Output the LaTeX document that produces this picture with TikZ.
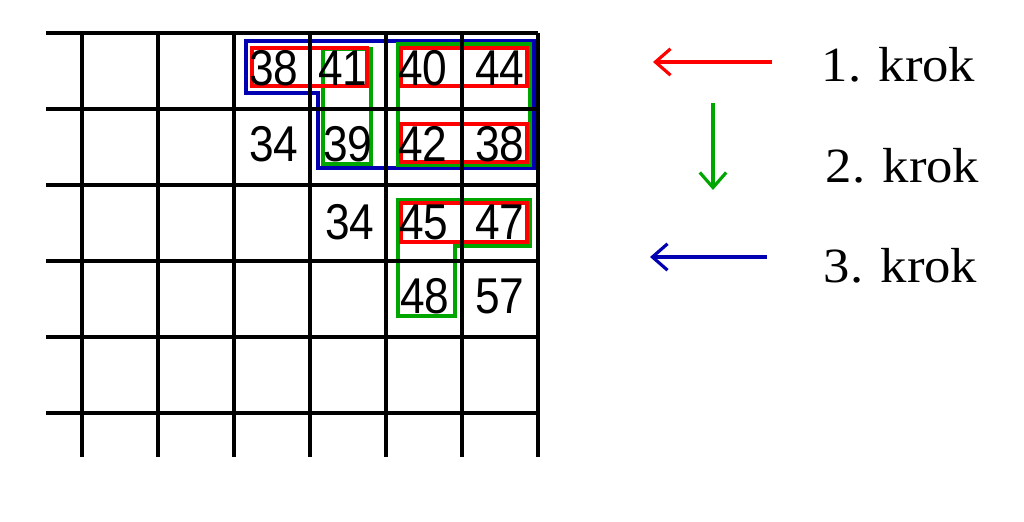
\documentclass[tikz,border=0pt]{standalone}
\usepackage{fontspec}
\setmainfont{Liberation Serif}
\newfontfamily\numfont[FakeStretch=0.88]{Liberation Sans}
\newfontfamily\krokfont[FakeStretch=1.07]{Liberation Serif}
\usetikzlibrary{arrows.meta}

\begin{document}
\begin{tikzpicture}[x=0.01cm,y=-0.01cm,
  grid line/.style={line width=1.1pt,black},
  num node/.style={inner sep=0pt,font=\numfont\fontsize{14.3}{16}\selectfont},
  krok one/.style={draw=red,line width=1pt},
  krok two/.style={draw=green!65!black,line width=0.9pt},
  krok three/.style={draw=blue!70!black,line width=1.2pt},
  legend arrow/.style={-{Straight Barb[length=4.3pt,width=7.5pt]},line width=0.9pt},
  krok label/.style={anchor=base west,inner sep=0pt,font=\krokfont\fontsize{14}{16}\selectfont}]

  \useasboundingbox (0,0) rectangle (1024,522);

  % 3. krok
  \draw[krok three] (246,41) -- (534,41) -- (534,168) -- (318,168) -- (318,93) -- (246,93) -- cycle;
  % 2. krok
  \draw[krok two] (323,49) rectangle (371,164);
  \draw[krok two] (398,44) rectangle (530,165);
  \draw[krok two] (398,200) -- (530,200) -- (530,246) -- (455,246) -- (455,316) -- (398,316) -- cycle;
  % 1. krok
  \draw[krok one] (252,48) rectangle (367,86);
  \draw[krok one] (401,48) rectangle (527,86);
  \draw[krok one] (401,124) rectangle (527,162);
  \draw[krok one] (401,203) rectangle (527,242);

  % grid
  \foreach \y in {33,109,185,261,337,413}
    \draw[grid line] (46,\y) -- (538,\y);
  \foreach \x in {82,158,234,310,386,462,538}
    \draw[grid line] (\x,33) -- (\x,457);

  % values
  \foreach \x/\y/\v [count=\i] in {274/68/38, 343/68/41, 423/68/40, 500/68/44,
      274/144/34, 348/144/39, 423/144/42, 500/144/38,
      350/222/34, 424/222/45, 500/222/47,
      425/296/48, 500/296/57}
    \node[num node] (n\i) at (\x,\y) {\v};

  % legend
  \node[krok label] (k1) at (821,82) {1. krok};
  \node[krok label] (k2) at (825,183) {2. krok};
  \node[krok label] (k3) at (823,283) {3. krok};

  \coordinate (a1) at (772,62);
  \coordinate (b1) at (653,62);
  \coordinate (a2) at (713,103);
  \coordinate (b2) at (713,190);
  \coordinate (a3) at (767,257);
  \coordinate (b3) at (650,257);

  \draw[legend arrow,red] (a1) -- (b1);
  \draw[legend arrow,green!65!black] (a2) -- (b2);
  \draw[legend arrow,blue!70!black] (a3) -- (b3);
\end{tikzpicture}
\end{document}
